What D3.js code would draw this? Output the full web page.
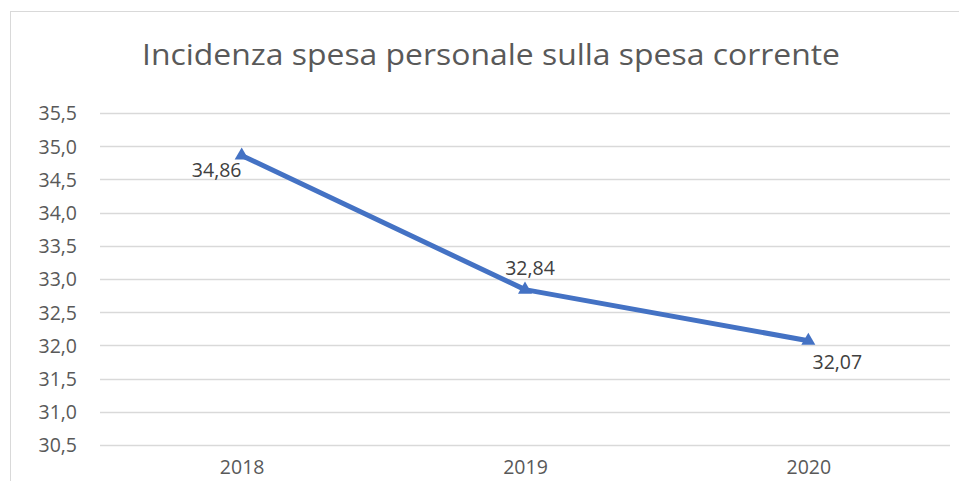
<!DOCTYPE html>
<html>
<head>
<meta charset="utf-8">
<script src="https://cdn.jsdelivr.net/npm/d3@7"></script>
<style>
  body { margin: 0; background: #fff; }
  text { font-family: "Open Sans", "Liberation Sans", sans-serif; fill: #595959; }
</style>
</head>
<body>
<svg id="chart"></svg>
<script>
const years = ["2018", "2019", "2020"];
const values = [34.86, 32.84, 32.07];
const yTicks = [30.5, 31.0, 31.5, 32.0, 32.5, 33.0, 33.5, 34.0, 34.5, 35.0, 35.5];
const title = "Incidenza spesa personale sulla spesa corrente";

const W = 959, H = 481;
const margin = { top: 113, right: 9, bottom: 36, left: 100 },
  width = W - margin.left - margin.right,
  height = H - margin.top - margin.bottom;

const root = d3.select("#chart").attr("width", W).attr("height", H);

// chart frame
root.append("rect")
  .attr("x", 10.5).attr("y", 11.5)
  .attr("width", W + 20).attr("height", H + 20)
  .attr("fill", "none")
  .attr("stroke", "#d9d9d9");

root.append("text")
  .attr("x", 491)
  .attr("y", 65)
  .attr("text-anchor", "middle")
  .style("font-size", "29px")
  .attr("textLength", 698)
  .attr("lengthAdjust", "spacingAndGlyphs")
  .text(title);

const svg = root.append("g")
  .attr("transform", `translate(${margin.left},${margin.top})`);

const x = d3.scalePoint()
  .domain(years)
  .range([0, width])
  .padding(0.5);

const y = d3.scaleLinear()
  .domain([30.5, 35.5])
  .range([height, 0]);

const fmt = v => d3.format(".1f")(v).replace(".", ",");
const fmt2 = v => d3.format(".2f")(v).replace(".", ",");

// gridlines
svg.selectAll(".grid")
  .data(yTicks)
  .join("line")
  .attr("class", "grid")
  .attr("x1", 0).attr("x2", width)
  .attr("y1", d => Math.round(y(d)) + 0.5)
  .attr("y2", d => Math.round(y(d)) + 0.5)
  .attr("stroke", "#d9d9d9")
  .attr("stroke-width", 1.3);

// y axis labels
const yAxis = svg.append("g")
  .call(d3.axisLeft(y).tickValues(yTicks).tickFormat(fmt).tickSize(0).tickPadding(23));
yAxis.select(".domain").remove();
yAxis.selectAll("text")
  .style("font-size", "19.5px")
  .attr("fill", "#595959")
  .attr("dy", "0.35em");

// x axis labels (cut by the bottom edge in the original, kept just inside here)
const xAxis = svg.append("g")
  .attr("transform", `translate(0,${height})`)
  .call(d3.axisBottom(x).tickSize(0).tickPadding(0));
xAxis.select(".domain").remove();
xAxis.selectAll("text")
  .attr("dy", null)
  .attr("y", 29)
  .style("font-size", "19.5px")
  .attr("fill", "#595959");

const pts = years.map((yr, i) => ({ year: yr, value: values[i] }));

// line
svg.append("path")
  .datum(pts)
  .attr("fill", "none")
  .attr("stroke", "#4472c4")
  .attr("stroke-width", 5)
  .attr("stroke-linejoin", "round")
  .attr("d", d3.line().x(d => x(d.year)).y(d => y(d.value)));

// triangle markers
svg.selectAll(".marker")
  .data(pts)
  .join("path")
  .attr("class", "marker")
  .attr("transform", d => `translate(${x(d.year)},${y(d.value)})`)
  .attr("d", d3.symbol().type(d3.symbolTriangle).size(85))
  .attr("fill", "#4472c4");

// data labels
const labelOffsets = [[-25, 22], [5, -15], [29, 28]];
svg.selectAll(".dlabel")
  .data(pts)
  .join("text")
  .attr("class", "dlabel")
  .attr("x", (d, i) => x(d.year) + labelOffsets[i][0])
  .attr("y", (d, i) => y(d.value) + labelOffsets[i][1])
  .attr("text-anchor", "middle")
  .style("font-size", "19.5px")
  .style("fill", "#404040")
  .text(d => fmt2(d.value));
</script>
</body>
</html>
